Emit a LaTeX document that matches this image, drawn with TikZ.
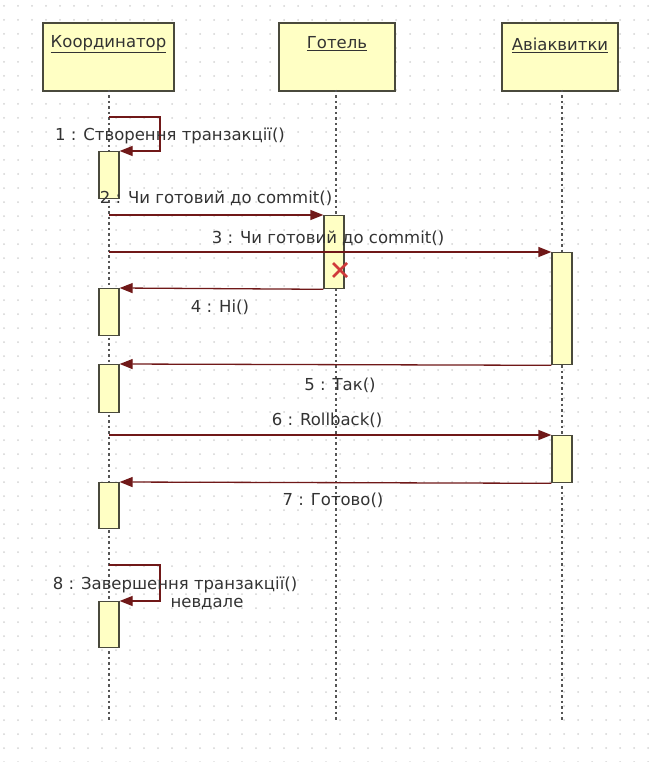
\documentclass[tikz,border=0pt]{standalone}
\usepackage{fontspec}
\setmainfont{DejaVu Sans}
\usetikzlibrary{arrows.meta}
\definecolor{boxfill}{HTML}{FFFFC4}
\definecolor{boxline}{HTML}{4A4A3C}
\definecolor{msgc}{HTML}{701818}
\definecolor{txtc}{HTML}{333333}
\definecolor{dotc}{HTML}{D4D4D4}
\definecolor{lifec}{HTML}{555555}
\definecolor{crossc}{HTML}{D03A3A}
\begin{document}
\begin{tikzpicture}[x=1pt,y=-1pt,
  every node/.style={text=txtc},
  font=\fontsize{16.5}{19}\selectfont,
  actor/.style={draw=boxline, fill=boxfill, line width=1.6pt, minimum height=68pt, inner sep=0pt, anchor=north},
  actlabel/.style={inner sep=0pt, anchor=center},
  act/.style={draw=boxline, fill=boxfill, line width=1.3pt, minimum width=20pt, inner sep=0pt, anchor=north},
  lifeln/.style={draw=lifec, line width=1.5pt, dash pattern=on 2.5pt off 3pt},
  msgline/.style={draw=msgc, line width=1.3pt},
  msgarrow/.style={msgline, -{Triangle[length=13pt,width=10pt]}},
  msglabel/.style={inner sep=0pt, anchor=center}
]
% background and grid
\fill[white] (0,0) rectangle (648,762);
\useasboundingbox (0,0) rectangle (648,762);
\foreach \i in {0,...,46}{
  \foreach \j in {0,...,54}{
    \fill[dotc] (\i*14+4,\j*14+6) circle (1pt);
  }
}
% header boxes
\node[actor, minimum width=131pt] (kA) at (108.5,22) {};
\node[actor, minimum width=116pt] (hA) at (337,22) {};
\node[actor, minimum width=116pt] (aA) at (560,22) {};
\node[actlabel] (kL) at (108.5,44) {\underline{Координатор}};
\node[actlabel] (hL) at (337,44) {\underline{Готель}};
\node[actlabel] (aL) at (560,45) {\underline{Авіаквитки}};
% lifeline ends
\coordinate (kE) at (109,722);
\coordinate (hE) at (336,722);
\coordinate (aE) at (562,722);
\draw[lifeln] (109,90) -- (kE);
\draw[lifeln] (336,90) -- (hE);
\draw[lifeln] (562,90) -- (aE);
% activation boxes
\node[act, minimum height=47pt] (c1) at (109,151) {};
\node[act, minimum height=47pt] (c2) at (109,288) {};
\node[act, minimum height=48pt] (c3) at (109,364) {};
\node[act, minimum height=46pt] (c4) at (109,482) {};
\node[act, minimum height=46pt] (c5) at (109,601) {};
\node[act, minimum height=73pt] (h1) at (334,215) {};
\node[act, minimum height=112pt] (a1) at (562,252) {};
\node[act, minimum height=47pt] (a2) at (562,435) {};
% message start points on lifelines
\coordinate (s1) at (109,117);
\coordinate (s1b) at (160,117);
\coordinate (s1c) at (160,151);
\coordinate (s2) at (109,215);
\coordinate (s3) at (109,252);
\coordinate (s6) at (109,435);
\coordinate (s8) at (109,565);
\coordinate (s8b) at (160,565);
\coordinate (s8c) at (160,601);
% messages
\draw[msgarrow] (s1) -- (s1b) -- (s1c) -- (c1.north east);
\draw[msgarrow] (s2) -- (h1.north west);
\draw[msgarrow] (s3) -- (a1.north west);
\draw[msgarrow] (h1.south west) -- (c2.north east);
\draw[msgarrow] (a1.south west) -- (c3.north east);
\draw[msgarrow] (s6) -- (a2.north west);
\draw[msgarrow] (a2.south west) -- (c4.north east);
\draw[msgarrow] (s8) -- (s8b) -- (s8c) -- (c5.north east);
% destruction cross
\coordinate (xc) at (340,270);
\draw[crossc, line width=2.8pt] ([shift={(-7,-7)}]xc) -- ([shift={(7,7)}]xc)
  ([shift={(-7,7)}]xc) -- ([shift={(7,-7)}]xc);
% labels
\node[msglabel] (m1) at (170,136) {1 : Створення транзакції()};
\node[msglabel] (m2) at (216,198) {2 : Чи готовий до commit()};
\node[msglabel] (m3) at (328,238) {3 : Чи готовий до commit()};
\node[msglabel] (m4) at (220,307) {4 : Hi()};
\node[msglabel] (m5) at (340,385) {5 : Так()};
\node[msglabel] (m6) at (327,420) {6 : Rollback()};
\node[msglabel] (m7) at (333,500) {7 : Готово()};
\node[msglabel] (m8) at (175,585) {8 : Завершення транзакції()};
\node[msglabel] (m8b) at (207,604) {невдале};
\end{tikzpicture}
\end{document}
